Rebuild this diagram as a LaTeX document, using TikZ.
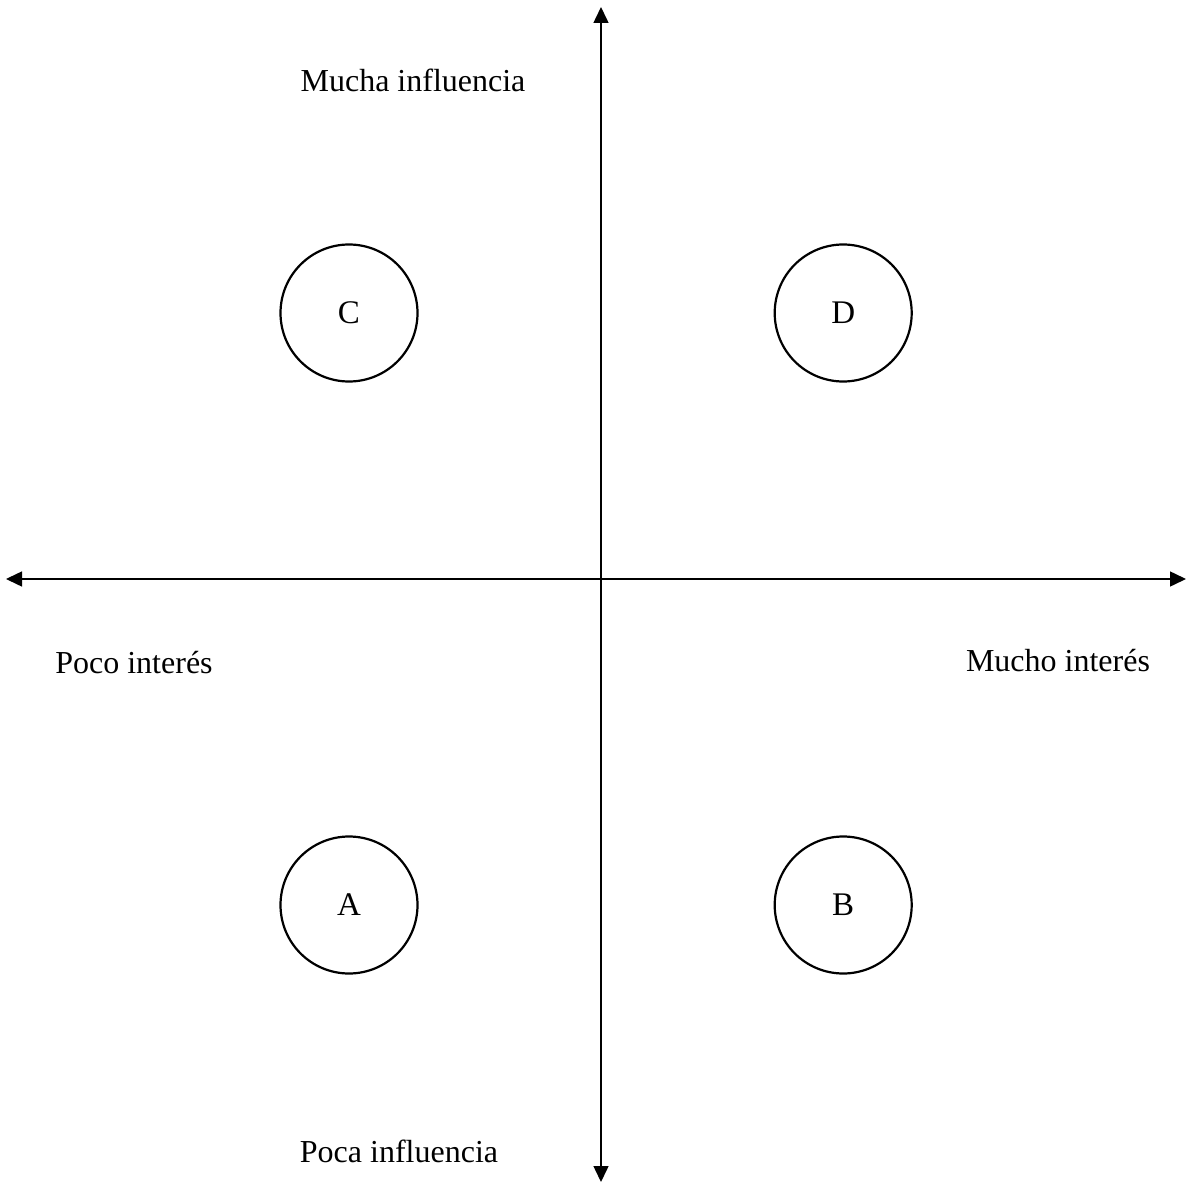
\documentclass[tikz,border=0pt]{standalone}
\usepackage{fontspec}
\setmainfont{Liberation Serif}
\usetikzlibrary{arrows.meta, positioning}
\tikzset{
        x=1pt, y=-1pt,
        axis/.style={{Triangle[width=15pt,length=16pt]}-{Triangle[width=15pt,length=16pt]}, line width=1.5pt},
        party/.style={circle, draw, line width=2.2pt, minimum size=137pt, inner sep=0pt, font=\fontsize{33}{38}\selectfont},
        tag/.style={font=\fontsize{32}{38}\selectfont}
        }
\begin{document}
\begin{tikzpicture}
        \useasboundingbox (0,0) rectangle (1186,1182);
        \coordinate (top) at (601,7);
        \coordinate (bot) at (601,1182);
        \coordinate (lft) at (6,579);
        \coordinate (rgt) at (1186,579);
        \draw[axis] (bot) -- (top);
        \draw[axis] (lft) -- (rgt);
        \node[party](c) at (349,313){C};
        \node[party, right=355pt of c](d){D};
        \node[party](a) at (349,905){A};
        \node[party, right=355pt of a](b){B};
        \node[tag](mi) at (413,80){Mucha influencia};
        \node[tag](pi) at (399,1151){Poca influencia};
        \node[tag](poi) at (134,663){Poco interés};
        \node[tag](mui) at (1058,661){Mucho interés};
\end{tikzpicture}
\end{document}
